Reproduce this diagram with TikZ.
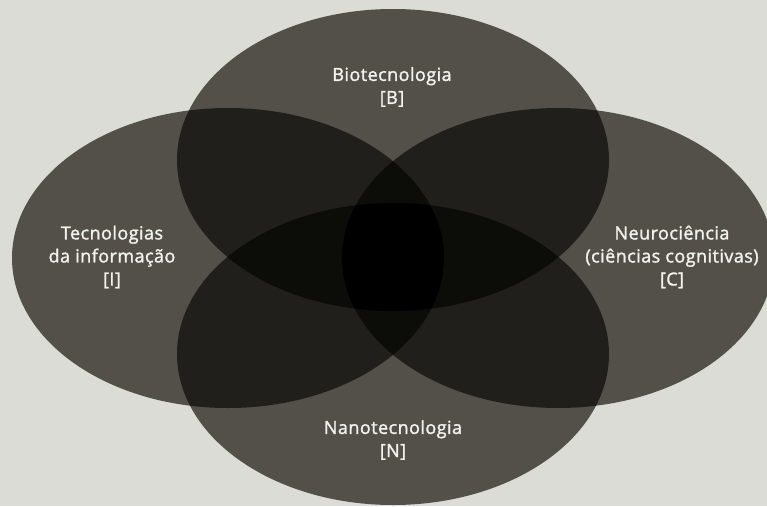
\documentclass[tikz,border=0pt]{standalone}
\usepackage{fontspec}
\setmainfont{Open Sans}[LetterSpace=2.5,RawFeature={embolden=1.6}]
\definecolor{bgc}{RGB}{220,220,215}
\definecolor{one}{RGB}{82,80,73}
\definecolor{two}{RGB}{32,31,27}
\definecolor{three}{RGB}{12,12,9}
\definecolor{four}{RGB}{0,0,0}
\def\pB{(393,160) ellipse [x radius=216, y radius=151]}
\def\pN{(393,354) ellipse [x radius=216, y radius=151]}
\def\pI{(228,258) ellipse [x radius=216, y radius=150]}
\def\pC{(558,258) ellipse [x radius=216, y radius=150]}
\begin{document}
\begin{tikzpicture}[x=1pt,y=-1pt,
  lbl/.style={text={rgb,255:red,242;green,242;blue,238},align=center,font=\fontsize{18}{23}\selectfont,inner sep=0pt}]
\fill[bgc] (0,0) rectangle (767,506);
\useasboundingbox (0,0) rectangle (767,506);
% single
\fill[one] \pB; \fill[one] \pN; \fill[one] \pI; \fill[one] \pC;
% pairs
\begin{scope}\clip \pB; \fill[two] \pN; \fill[two] \pI; \fill[two] \pC; \end{scope}
\begin{scope}\clip \pN; \fill[two] \pI; \fill[two] \pC; \end{scope}
\begin{scope}\clip \pI; \fill[two] \pC; \end{scope}
% triples
\begin{scope}\clip \pB; \clip \pN; \fill[three] \pI; \fill[three] \pC; \end{scope}
\begin{scope}\clip \pI; \clip \pC; \fill[three] \pB; \fill[three] \pN; \end{scope}
% quadruple
\begin{scope}\clip \pB; \clip \pN; \clip \pI; \fill[four] \pC; \end{scope}
\node[lbl] (B) at (392,87) {Biotecnologia\\{[B]}};
\node[lbl] (N) at (393,440) {Nanotecnologia\\{[N]}};
\node[lbl] (I) at (112,257) {Tecnologias\\da informação\\{[I]}};
\node[lbl] (C) at (672,257) {Neurociência\\(ciências cognitivas)\\{[C]}};
\end{tikzpicture}
\end{document}
